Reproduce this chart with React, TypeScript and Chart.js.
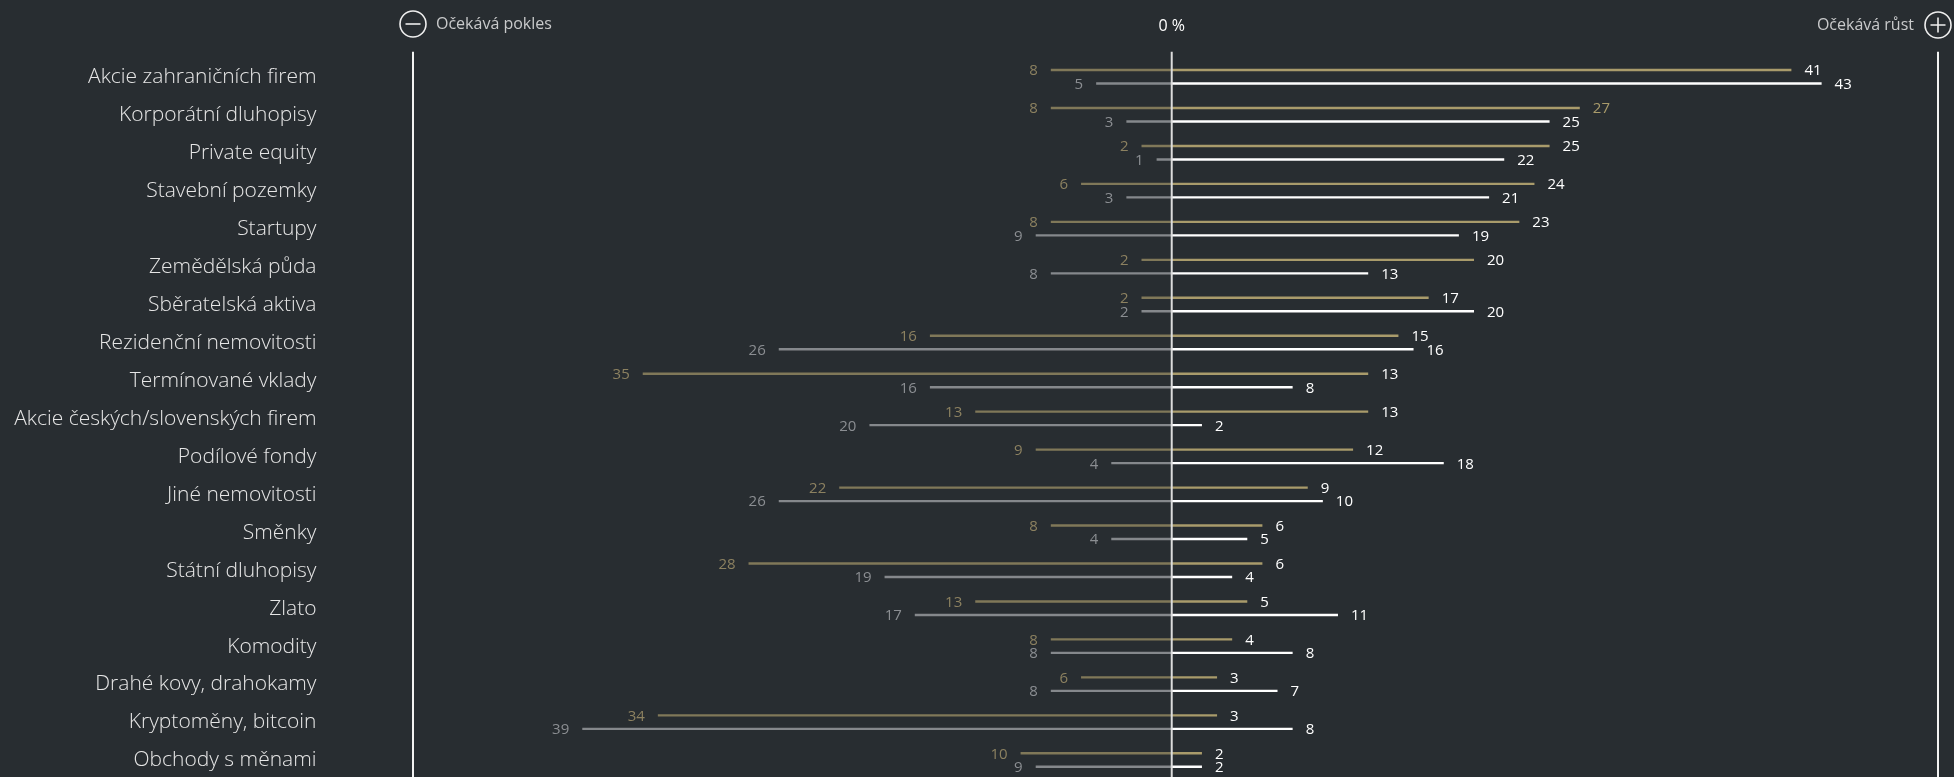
import React, { useEffect, useRef } from "react";
import { Chart, registerables } from "chart.js";

Chart.register(...registerables);

const categories = [
  "Akcie zahraničních firem",
  "Korporátní dluhopisy",
  "Private equity",
  "Stavební pozemky",
  "Startupy",
  "Zemědělská půda",
  "Sběratelská aktiva",
  "Rezidenční nemovitosti",
  "Termínované vklady",
  "Akcie českých/slovenských firem",
  "Podílové fondy",
  "Jiné nemovitosti",
  "Směnky",
  "Státní dluhopisy",
  "Zlato",
  "Komodity",
  "Drahé kovy, drahokamy",
  "Kryptoměny, bitcoin",
  "Obchody s měnami",
];

// gold series (upper bar of each row)
const goldDecline = [8, 8, 2, 6, 8, 2, 2, 16, 35, 13, 9, 22, 8, 28, 13, 8, 6, 34, 10];
const goldGrowth = [41, 27, 25, 24, 23, 20, 17, 15, 13, 13, 12, 9, 6, 6, 5, 4, 3, 3, 2];
// grey / white series (lower bar of each row)
const whiteDecline = [5, 3, 1, 3, 9, 8, 2, 26, 16, 20, 4, 26, 4, 19, 17, 8, 8, 39, 9];
const whiteGrowth = [43, 25, 22, 21, 19, 13, 20, 16, 8, 2, 18, 10, 5, 4, 11, 8, 7, 8, 2];

// rows whose gold growth label is shown in gold instead of white
const goldGrowthHighlighted = [1];

const zeroLabel = "0 %";
const declineLabel = "Očekává pokles";
const growthLabel = "Očekává růst";

const BG = "#282d31";
const GOLD_POS = "#a99b6b";
const GOLD_NEG = "#807859";
const GREY_NEG = "#85888c";
const WHITE_POS = "#ffffff";
const GOLD_NEG_TEXT = "#8c8160";
const GREY_NEG_TEXT = "#8b8e92";

export default function App() {
  const ref = useRef<HTMLCanvasElement | null>(null);

  useEffect(() => {
    if (!ref.current) return;

    const valueLabels = {
      id: "valueLabels",
      afterDatasetsDraw(chart: any) {
        const ctx = chart.ctx;
        const x = chart.scales.x;
        const area = chart.chartArea;
        ctx.save();
        const lineTop = area.top - 9.5;
        const zx = x.getPixelForValue(0);
        ctx.strokeStyle = "#dcdcdc";
        ctx.lineWidth = 2;
        ctx.beginPath();
        ctx.moveTo(zx, lineTop);
        ctx.lineTo(zx, area.bottom);
        ctx.stroke();
        ctx.strokeStyle = "#f2f2f2";
        [x.left, x.right].forEach((px: number) => {
          ctx.beginPath();
          ctx.moveTo(px, lineTop);
          ctx.lineTo(px, area.bottom);
          ctx.stroke();
        });

        ctx.font = "400 15px 'Open Sans'";
        ctx.textBaseline = "alphabetic";
        chart.data.datasets.forEach((ds: any, di: number) => {
          const meta = chart.getDatasetMeta(di);
          meta.data.forEach((el: any, i: number) => {
            const v = ds.data[i];
            const p = el.getProps(["x", "y"], true);
            let color = WHITE_POS;
            if (di === 0) color = GOLD_NEG_TEXT;
            else if (di === 2) color = GREY_NEG_TEXT;
            else if (di === 1 && goldGrowthHighlighted.includes(i)) color = GOLD_POS;
            ctx.fillStyle = color;
            const ty = p.y + 5.4;
            if (v < 0) {
              ctx.textAlign = "right";
              ctx.fillText(String(-v), p.x - 13, ty);
            } else {
              ctx.textAlign = "left";
              ctx.fillText(String(v), p.x + 13, ty);
            }
          });
        });

        const hy = 25;
        ctx.fillStyle = "#ffffff";
        ctx.font = "400 16px 'Open Sans'";
        ctx.textAlign = "center";
        ctx.textBaseline = "middle";
        ctx.fillText(zeroLabel, zx, hy + 1);

        ctx.strokeStyle = "#eeeeee";
        ctx.lineWidth = 1.6;
        const r = 13;
        ctx.beginPath();
        ctx.arc(x.left, hy - 1, r, 0, Math.PI * 2);
        ctx.stroke();
        ctx.beginPath();
        ctx.moveTo(x.left - 7.5, hy - 1);
        ctx.lineTo(x.left + 7.5, hy - 1);
        ctx.stroke();
        ctx.beginPath();
        ctx.arc(x.right, hy, r, 0, Math.PI * 2);
        ctx.stroke();
        ctx.beginPath();
        ctx.moveTo(x.right - 7.5, hy);
        ctx.lineTo(x.right + 7.5, hy);
        ctx.moveTo(x.right, hy - 7.5);
        ctx.lineTo(x.right, hy + 7.5);
        ctx.stroke();

        ctx.fillStyle = "#c9cacb";
        ctx.font = "400 16px 'Open Sans'";
        ctx.textAlign = "left";
        ctx.fillText(declineLabel, x.left + 23, hy - 1);
        ctx.textAlign = "right";
        ctx.fillText(growthLabel, x.right - 24, hy);
        ctx.restore();
      },
    };

    const chart = new Chart(ref.current, {
      type: "bar",
      data: {
        labels: categories,
        datasets: [
          { label: "gold decline", data: goldDecline.map((v) => -v), backgroundColor: GOLD_NEG, stack: "gold" },
          { label: "gold growth", data: goldGrowth, backgroundColor: GOLD_POS, stack: "gold" },
          { label: "white decline", data: whiteDecline.map((v) => -v), backgroundColor: GREY_NEG, stack: "white" },
          { label: "white growth", data: whiteGrowth, backgroundColor: WHITE_POS, stack: "white" },
        ],
      },
      options: {
        indexAxis: "y",
        responsive: true,
        maintainAspectRatio: false,
        devicePixelRatio: 1,
        animation: false,
        layout: { padding: { top: 61.2, bottom: 1.6, left: 0, right: 16 } },
        datasets: {
          bar: {
            categoryPercentage: 0.7116,
            barPercentage: 0.35,
            borderWidth: 0,
          },
        },
        plugins: {
          legend: { display: false },
          tooltip: { enabled: false },
          title: { display: false },
        },
        scales: {
          x: {
            display: false,
            stacked: true,
            min: -50.2,
            max: 50.7,
          },
          y: {
            stacked: false,
            grid: { display: false, drawTicks: false },
            border: { display: false },
            ticks: {
              color: "#e6e6e6",
              padding: 96.5,
              labelOffset: -3,
              font: { family: "'Open Sans'", size: 21, weight: "300" },
            },
            afterFit(scale: any) {
              scale.width = 413;
              scale.paddingTop = 0;
              scale.paddingBottom = 0;
            },
          },
        },
      },
      plugins: [valueLabels],
    } as any);

    return () => chart.destroy();
  }, []);

  return (
    <div
      style={{
        position: "fixed",
        left: 0,
        top: 0,
        width: 1954,
        height: 784,
        background: BG,
        overflow: "hidden",
      }}
    >
      <div style={{ position: "relative", width: 1954, height: 784 }}>
        <canvas ref={ref} />
      </div>
    </div>
  );
}
